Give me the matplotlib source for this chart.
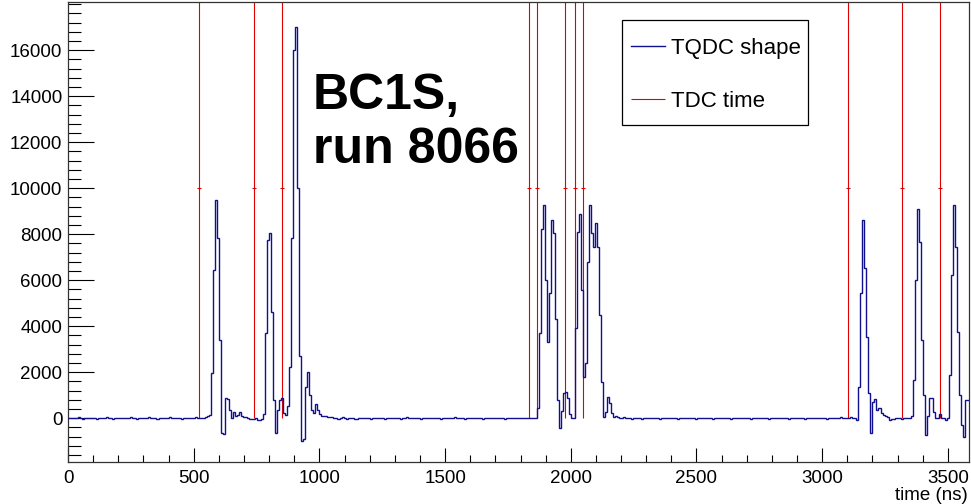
import numpy as np
import matplotlib
matplotlib.use("Agg")
import matplotlib.pyplot as plt
from matplotlib.ticker import MultipleLocator
from matplotlib.patches import Rectangle

plt.rcParams['font.family'] = ['Liberation Sans', 'DejaVu Sans']

# ---------------- data ----------------
bin_width_ns = 8
tqdc_shape = [
    # bins 0-69 : baseline
    20, 30, 10, 0, 20, 40, 10, -10, 20, 30, 0, 10, 30, 20, -10, 10,
    20, 0, 30, 40, 10, 20, -20, 10, 30, 20, 10, 0, 20, 30, 10, 40,
    20, 10, -10, 20, 30, 10, 0, 20, 40, 20, 10, 30, -10, 0, 20, 30,
    10, 20, 40, 10, 0, 30, 20, 10, -20, 10, 30, 20, 0, 10, 20, 40,
    30, 10, 0, 20, 60, 120,
    # bins 70-87 : pulse 1
    150, 1950, 6440, 9500, 7820, 3400, -650, -700, 880, 850, 360, 0,
    280, 120, 130, 280, 100, 50,
    # bins 88-97
    40, 20, -20, -40, -30, 0, -60, -80, -40, 200,
    # bins 98-130 : pulses 2 and 3
    3700, 7750, 8050, 4600, 790, -650, 350, 800, 880, 230, 150, 540,
    2240, 7820, 16000, 17000, 10000, 2700, -1000, -900, 1370, 2000, 1000,
    360, 250, 600, 350, 200, 100, 80, 120, 60, 40,
    # bins 131-232 : baseline
    50, 20, 30, -10, 10, 40, 20, -20, 0, 30, 10, -30, -20, 10, 20, 0,
    10, 30, 20, -10, 0, 20, 10, 30, 20, 0, -10, 20, 30, 10, 0, 20,
    30, 10, -10, 20, 10, 40, 20, 0, 10, 30, 20, 10, -20, 0, 20, 30,
    10, 20, 0, 10, 30, 20, -10, 10, 20, 0, 30, 10, 20, 40, 10, 0,
    20, 10, -10, 30, 20, 10, 0, 20, 30, 10, 20, -10, 0, 20, 10, 30,
    20, 0, 10, 30, 10, 20, -10, 10, 20, 30, 0, 10, 20, 10, 30, 20,
    10, 0, 20, 10, 0, 10,
    # bins 233-275 : pulse group 4
    434, 3690, 8210, 9265, 6000, 3330, 5430, 8600, 8070, 4300, 780, -435,
    300, 1100, 1150, 900, 200, 0, 0, 3910, 8110, 8900, 5575, 1810, 2390,
    6800, 9265, 8040, 7460, 8470, 7460, 4490, 1590, 70, 290, 940, 650,
    220, 70, 80, 50, 30, 0,
    # bins 276-391 : baseline
    40, 20, 30, 10, -10, 20, 0, 30, 10, -20, 0, 20, 10, 30, 20, 0,
    10, 20, -10, 0, 30, 20, 10, 0, 20, 30, 10, -10, 20, 10, 0, 30,
    20, 10, 30, 0, -10, 20, 10, 20, 30, 10, 0, 20, -10, 10, 30, 20,
    0, 10, 20, 30, 10, -10, 20, 0, 10, 30, 20, 10, 0, 20, 10, -10,
    20, 30, 10, 0, 20, 10, 30, 20, -10, 0, 10, 20, 30, 10, 20, 0,
    10, 20, -10, 30, 20, 0, 10, 30, 20, 10, -20, 0, 20, 10, 30, 20,
    10, 0, 20, 30, 10, -10, 20, 10, 0, 30, 20, 10, 40, 20, 0, 10,
    20, 40, 30, 10,
    # bins 392-408 : pulse 5
    -70, 1370, 5430, 8610, 6515, 3545, 1085, -650, 720, 830, 360, 430,
    220, 150, 100, 70, -70,
    # bins 409-418
    -40, -20, 0, 10, 0, -10, 0, 10, 0, 20,
    # bins 419-447 : pulses 6 and 7
    100, 1660, 6010, 9080, 7670, 3400, 1010, -725, 100, 870, 870, 290,
    0, 30, 200, 30, 0, -70, 0, 1880, 6230, 9265, 7460, 3760, 1010, -290,
    -800, 800, 800,
]
tdc_times_ns = [521, 740, 853, 1832, 1864, 1975, 2015, 2047, 3101, 3316, 3467]
tdc_marker_level = 10000

x_range = (0, 3584)
y_range = (-1900, 18100)
x_ticks = [0, 500, 1000, 1500, 2000, 2500, 3000, 3500]
y_ticks = [0, 2000, 4000, 6000, 8000, 10000, 12000, 14000, 16000]
series_labels = ["TQDC shape", "TDC time"]
annotation = "BC1S,\nrun 8066"
x_title = "time (ns)"

# ---------------- figure ----------------
W, H = 971, 504
fig = plt.figure(figsize=(W / 100, H / 100), dpi=100)
ax = fig.add_axes([68 / W, 1 - 462 / H, (969 - 68) / W, (462 - 2) / H])

blue = '#10108f'
red = '#e00000'

edges = np.arange(len(tqdc_shape) + 1) * bin_width_ns
ax.stairs(tqdc_shape, edges, baseline=None, color=blue, lw=1.0,
          label=series_labels[0], zorder=3)

ax.set_xlim(*x_range)
ax.set_ylim(*y_range)

ax.vlines(tdc_times_ns, 0, y_range[1], colors=red, lw=0.8, zorder=2,
          label=series_labels[1])
ax.plot(tdc_times_ns, [tdc_marker_level] * len(tdc_times_ns), ls='none',
        marker='_', ms=3, mew=0.8, color=red, zorder=2)

# ticks (ROOT style: inside, left/bottom only)
ax.set_xticks(x_ticks)
ax.set_yticks(y_ticks)
ax.xaxis.set_minor_locator(MultipleLocator(100))
ax.yaxis.set_minor_locator(MultipleLocator(400))
ax.tick_params(axis='x', which='major', direction='in', length=10, width=0.8,
               labelsize=13.5, pad=6, top=False)
ax.tick_params(axis='x', which='minor', direction='in', length=5, width=0.8,
               top=False)
ax.tick_params(axis='y', which='major', direction='in', length=19, width=0.8,
               labelsize=13.5, pad=4, right=False)
ax.tick_params(axis='y', which='minor', direction='in', length=9.5, width=0.8,
               right=False)
for s in ax.spines.values():
    s.set_linewidth(0.9)
    s.set_color('#333333')

fig.text(968 / W, 1 - 495 / H, x_title, ha='right', va='center', fontsize=13.5)

ax.text(0.272, 0.846, annotation, transform=ax.transAxes, ha='left', va='top',
        fontsize=36, fontweight='bold', linespacing=1.23, color='black')

# legend box (ROOT TLegend style)
ax.add_patch(Rectangle((0.615, 0.733), 0.2066, 0.228, transform=ax.transAxes,
                       facecolor='white', edgecolor='black', lw=0.9, zorder=4))
leg = ax.legend(loc='upper left', bbox_to_anchor=(0.615, 0.942, 0.2066, 0.0),
                mode='expand', fontsize=16, handlelength=1.5, handletextpad=0.3,
                labelspacing=1.43, borderpad=0.42,
                borderaxespad=0.0, frameon=False)
leg.set_zorder(5)

fig.savefig('out.png', dpi=100)
